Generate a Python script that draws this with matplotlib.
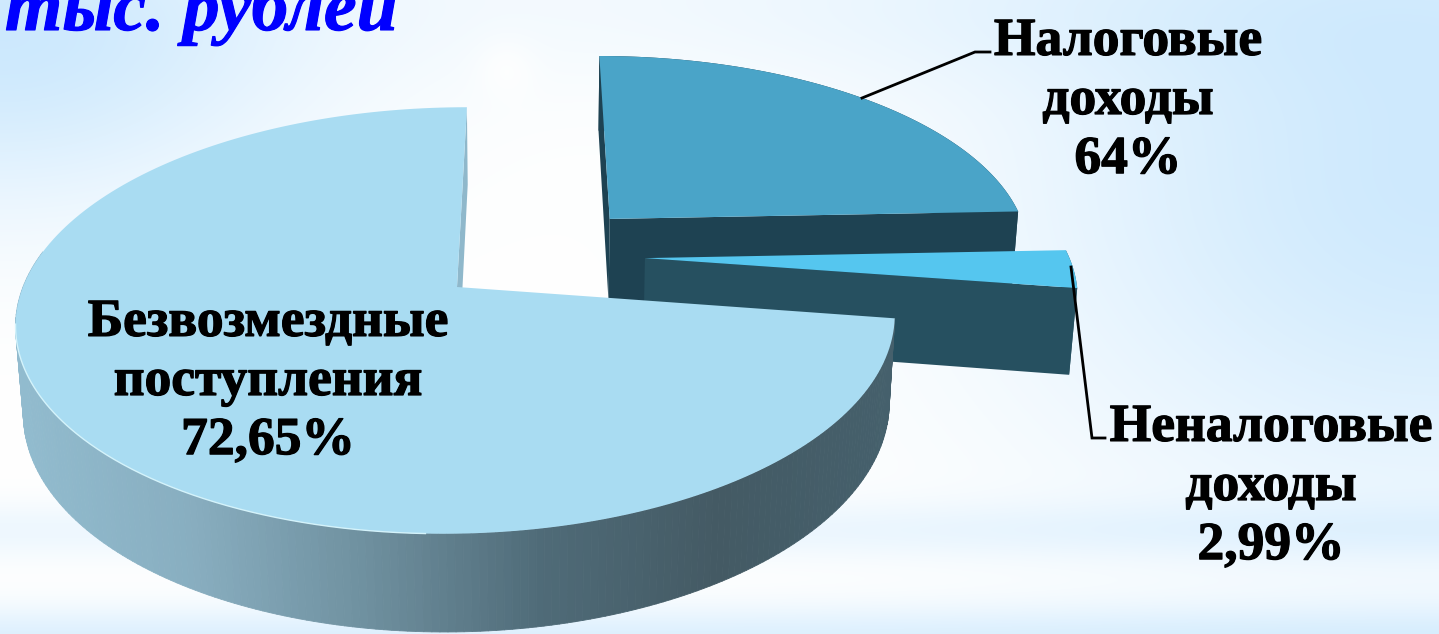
import matplotlib
matplotlib.use('Agg')
import matplotlib.pyplot as plt
import matplotlib.patheffects as pe
import numpy as np
from matplotlib.collections import PolyCollection
from matplotlib.colors import LinearSegmentedColormap

# доли из подписей; 24,36 - остаток до 100, на картинке подпись "64%"
shares = [72.65, 2.99, 24.36]
labels = ['Безвозмездные\nпоступления\n72,65%', 'Неналоговые\nдоходы\n2,99%', 'Налоговые\nдоходы\n64%']
title_text = 'тыс. рублей'

# центры долей (вынос сектора), в мировых координатах
centers = [(457, 0.0), (647.5, 0.142), (614, 0.345)]
top_colors = ['#a9dcf2', '#55c6ef', '#4aa4c8']
wall_colors = ['#8fb8cb', '#265060', '#1e4252']

R = 434
VX, Y0 = 530, 287
RY, K, M, DEPTH = 208, 0.157, 0.015, 88


def project(x, v, z=0.0):
    # простая перспектива: z=1 - нижнее основание
    w = 1 + K*v + M*z
    return VX + (x - VX)/w, Y0 + (-RY*v + DEPTH*z)/w


def rim(center, a0, a1, z=0.0):
    t = np.radians(np.linspace(a0, a1, 200))
    px, py = project(center[0] + R*np.cos(t), center[1] + np.sin(t), z)
    return np.column_stack([px, py])


def edge_wall(ax, center, angle, color, zorder):
    a = rim(center, angle, angle)[0]
    b = rim(center, angle, angle, 1)[0]
    c0 = np.array(project(center[0], center[1]))
    c1 = np.array(project(center[0], center[1], 1))
    ax.fill(*np.array([c0, a, b, c1]).T, color=color, lw=0, zorder=zorder)


def background():
    yy, xx = np.mgrid[0:634, 0:1439]
    blue = 0.2*np.exp(-((xx - 1439)/420.0)**2 - ((yy - 180)/330.0)**2)
    blue += 0.2*np.exp(-(xx/300.0)**2 - ((yy - 40)/170.0)**2)
    blue += 0.07*np.exp(-((yy - 530)/30.0)**2)
    blue += 0.14*np.exp(-((yy - 640)/35.0)**2)
    blue += 0.06*np.exp(-((xx - 1000)/700.0)**2 - ((yy - 0)/90.0)**2)
    blue -= 0.025*np.exp(-((xx - 505)/30.0)**2 - ((yy - 65)/30.0)**2)
    blue = np.clip(blue, 0, 1)
    img = np.ones((634, 1439, 3))
    img[..., 0] -= 0.95*blue
    img[..., 1] -= 0.42*blue
    img[..., 2] -= 0.03*blue
    return img


fig = plt.figure(figsize=(14.39, 6.34), dpi=100)
ax = fig.add_axes([0, 0, 1, 1])
ax.imshow(background(), extent=(0, 1439, 634, 0), aspect='auto', zorder=0)
ax.set_xlim(0, 1439)
ax.set_ylim(634, 0)
ax.axis('off')

# углы секторов: начало сверху, против часовой стрелки
angles = 90 + np.cumsum([0] + shares)*3.6
wall_cmap = LinearSegmentedColormap.from_list('wall', ['#92bccf', '#88aec0', '#6f909f', '#4f6b78', '#445a64', '#45606c'])

# дальние сектора сначала
for z, i in enumerate([2, 1, 0], start=1):
    a0, a1 = angles[i], angles[i + 1]
    c = centers[i]
    if i == 0:
        edge_wall(ax, c, a0, wall_colors[0], z)
    elif i == 1:
        edge_wall(ax, c, a0, wall_colors[1], z)
    else:
        edge_wall(ax, c, a0, wall_colors[2], z)
        edge_wall(ax, c, a1, wall_colors[2], z)

    top = rim(c, a0, a1)
    bottom = rim(c, a0, a1, 1)
    if i == 0:
        # боковая стенка с переходом цвета слева направо, только передняя часть
        front_a = rim(c, 170, a1)
        front_b = rim(c, 170, a1, 1)
        quads = [np.array([front_a[j], front_a[j + 1], front_b[j + 1], front_b[j]]) for j in range(len(front_a) - 1)]
        mid = np.array([q[:, 0].mean() for q in quads])
        pc = PolyCollection(quads, array=(mid - 14)/880.0, cmap=wall_cmap, clim=(0, 1), edgecolors='face', linewidths=0.6, zorder=z)
        ax.add_collection(pc)
    else:
        ax.fill(*np.vstack([top, bottom[::-1]]).T, color=wall_colors[i], lw=0, zorder=z)

    apex = np.array(project(c[0], c[1]))
    ax.fill(*np.vstack([apex, top]).T, color=top_colors[i], lw=0, zorder=z + 0.5)
    if i == 0:
        front = rim(c, 190, 268)
        ax.plot(front[:, 0], front[:, 1], color='#d4f3fb', lw=1.0, zorder=z + 0.6)

# выноски
ax.plot([862, 975, 990], [98, 52, 52], color='black', lw=2, zorder=8, solid_joinstyle='miter')
ax.plot([1071, 1092, 1105], [267, 438, 438], color='black', lw=2, zorder=8, solid_joinstyle='miter')

heavy = [pe.withStroke(linewidth=0.9, foreground='black')]
font = dict(family=['Liberation Serif', 'DejaVu Serif'], weight='bold', color='black', ha='center', va='center',
            linespacing=1.3, zorder=9, path_effects=heavy)
ax.text(268, 382, labels[0], fontsize=38.5, **font)
ax.text(1271, 487, labels[1], fontsize=38.5, **font)
ax.text(1128, 101, labels[2], fontsize=38.5, **font)

ax.text(5, 30, title_text, family=['Liberation Serif', 'DejaVu Serif'], style='italic', weight='bold',
        color='#0000ff', fontsize=53, ha='left', va='baseline', zorder=9,
        path_effects=[pe.withStroke(linewidth=0.8, foreground='#0000ff')])

fig.savefig('out.png', dpi=100)
